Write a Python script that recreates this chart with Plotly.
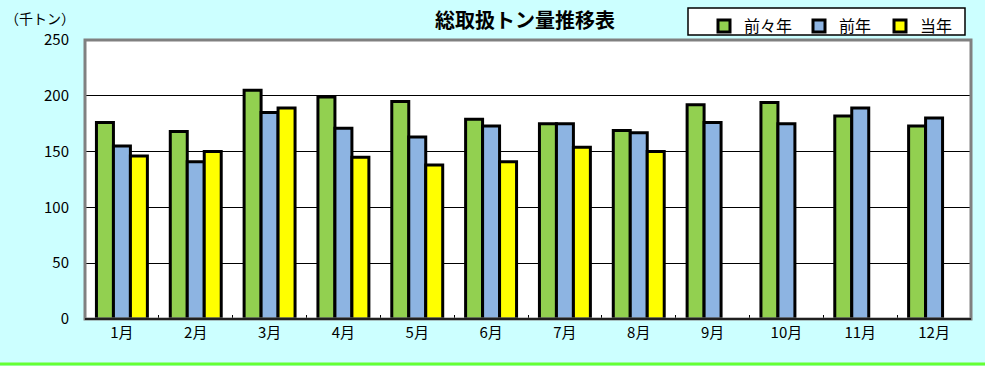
import plotly.graph_objects as go

months = ["1月", "2月", "3月", "4月", "5月", "6月", "7月", "8月", "9月", "10月", "11月", "12月"]
series_names = ["前々年", "前年", "当年"]
two_years_ago = [176, 168, 205, 199, 195, 179, 175, 169, 192, 194, 182, 173]
last_year = [155, 141, 185, 171, 163, 173, 175, 167, 176, 175, 189, 180]
this_year = [146, 150, 189, 145, 138, 141, 154, 150, None, None, None, None]
y_ticks = [0, 50, 100, 150, 200, 250]

colors = ["#92d050", "#8db4e2", "#ffff00"]
FONT = "Noto Sans CJK JP"
legend_ids = ["legend", "legend2", "legend3"]
legend_px = [704, 799, 880]

fig = go.Figure()
for name, vals, col, lid in zip(series_names, [two_years_ago, last_year, this_year], colors, legend_ids):
    fig.add_trace(go.Bar(
        x=months, y=vals, name=name, legend=lid,
        marker=dict(color=col, line=dict(color="black", width=3)),
    ))

legend_common = dict(orientation="h", xref="container", yref="container",
                     y=1 - 9 / 366, xanchor="left", yanchor="top",
                     bgcolor="rgba(0,0,0,0)", borderwidth=0,
                     font=dict(size=16, family=FONT), itemwidth=30)

fig.update_layout(
    width=985, height=366,
    paper_bgcolor="#ccffff",
    plot_bgcolor="white",
    barmode="group",
    bargap=0.31,
    bargroupgap=0,
    margin=dict(l=85, r=14, t=40, b=47, autoexpand=False),
    font=dict(family=FONT, size=14, color="black"),
    title=dict(text="<b>総取扱トン量推移表</b>", x=525 / 985, xanchor="center",
               y=1 - 21 / 366, yanchor="middle", font=dict(size=20, family=FONT)),
    showlegend=True,
    legend=dict(x=legend_px[0] / 985, **legend_common),
    legend2=dict(x=legend_px[1] / 985, **legend_common),
    legend3=dict(x=legend_px[2] / 985, **legend_common),
    xaxis=dict(showgrid=False, ticks="inside", tickson="boundaries", ticklen=4,
               tickcolor="black", showline=True, linecolor="black", linewidth=1,
               tickfont=dict(size=15), fixedrange=True),
    yaxis=dict(range=[0, 250], tickvals=y_ticks, showgrid=True, gridcolor="black",
               gridwidth=1, zeroline=False, ticks="", tickfont=dict(size=15),
               ticklabelstandoff=15, showline=False, fixedrange=True),
)

# Legend box
fig.add_shape(type="rect", xref="paper", yref="paper",
              x0=(688 - 85) / 886, x1=(965 - 85) / 886,
              y0=(319 - 35) / 279, y1=(319 - 8) / 279,
              line=dict(color="black", width=1.5), fillcolor="white", layer="below")
# Plot-area border (gray frame like the original)
fig.add_shape(type="rect", xref="paper", yref="paper", x0=0, x1=1, y0=0, y1=1,
              line=dict(color="#808080", width=3), layer="above")
fig.add_shape(type="line", xref="paper", yref="paper", x0=0, x1=1, y0=0, y1=0,
              line=dict(color="black", width=1.5), layer="above")
# Bottom green rule
fig.add_shape(type="line", xref="paper", yref="paper", x0=-0.2, x1=1.2,
              y0=-45 / 279, y1=-45 / 279, line=dict(color="#66ff33", width=3))

fig.add_annotation(text="（千トン）", xref="paper", yref="paper", x=-82 / 886, y=1 + 22 / 279,
                   xanchor="left", yanchor="middle", showarrow=False,
                   font=dict(size=14, family=FONT))

fig.write_html("out.html", config={"displayModeBar": False},
               post_script="document.body.style.margin='0';")
